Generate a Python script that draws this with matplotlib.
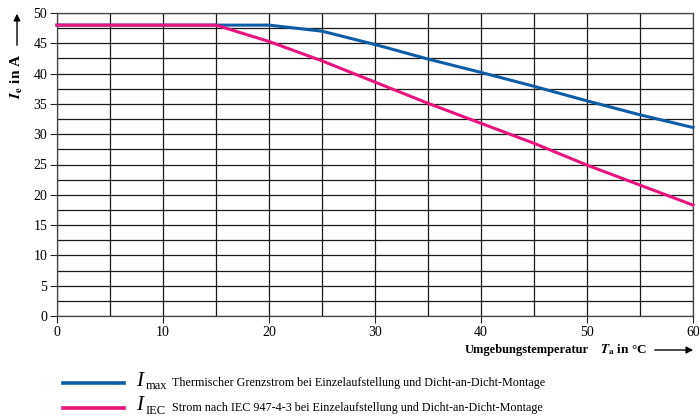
import matplotlib
matplotlib.use("Agg")
import matplotlib.pyplot as plt
from matplotlib.lines import Line2D
import numpy as np

plt.rcParams['font.family'] = ['Liberation Serif', 'DejaVu Serif']
plt.rcParams['mathtext.fontset'] = 'stix'

# Data
temp_max = [0, 20, 25, 30, 35, 40, 45, 50, 55, 60]
i_max = [48.0, 48.0, 47.0, 44.8, 42.4, 40.2, 37.9, 35.5, 33.2, 31.1]
temp_iec = [0, 15, 20, 25, 30, 35, 40, 45, 50, 55, 60]
i_iec = [48.0, 48.0, 45.3, 42.1, 38.6, 35.1, 31.8, 28.5, 24.9, 21.6, 18.3]

x_ticks = [0, 10, 20, 30, 40, 50, 60]
y_ticks = [0, 5, 10, 15, 20, 25, 30, 35, 40, 45, 50]

label_max = "Thermischer Grenzstrom bei Einzelaufstellung und Dicht-an-Dicht-Montage"
label_iec = "Strom nach IEC 947-4-3 bei Einzelaufstellung und Dicht-an-Dicht-Montage"

blue = '#0d5ca6'
pink = '#e8137f'

W, H = 699, 418
fig = plt.figure(figsize=(W / 100, H / 100), dpi=100)
ax = fig.add_axes([57 / W, 1 - 316 / H, (693 - 57) / W, (316 - 13) / H])

ax.set_xlim(0, 60)
ax.set_ylim(0, 50)
ax.set_xticks(x_ticks)
ax.set_yticks(y_ticks)
ax.set_xticks(np.arange(0, 61, 5), minor=True)
ax.set_yticks(np.arange(0, 50.1, 2.5), minor=True)
ax.tick_params(which='major', direction='out', length=5, width=0.8, labelsize=10, pad=2, color='#222222')
ax.tick_params(which='minor', length=0)
ax.grid(which='both', color='#1a1a1a', linewidth=0.9)
for s in ax.spines.values():
    s.set_color('#444444')
    s.set_linewidth(0.9)

ax.plot(temp_max, i_max, color=blue, linewidth=2.2, zorder=3, clip_on=False)
ax.plot(temp_iec, i_iec, color=pink, linewidth=2.2, zorder=4, clip_on=False)

# Y axis label with arrow
fig.text(17 / W, 1 - 76 / H, r"$\boldsymbol{I}_{\mathbf{e}}$ in A", rotation=90,
         ha='center', va='center', fontsize=11, fontweight='bold')
fig.add_artist(matplotlib.patches.FancyArrowPatch(
    (17 / W, 1 - 48 / H), (17 / W, 1 - 11 / H), transform=fig.transFigure,
    arrowstyle='-|>', mutation_scale=10, color='black', linewidth=1))

# X axis label with arrow
fig.text(465 / W, 1 - 350 / H, "Umgebungstemperatur", ha='left', va='center',
         fontsize=9, fontweight='bold')
fig.text(600 / W, 1 - 350 / H, r"$\boldsymbol{T}_{\mathbf{a}}$ in °C", ha='left', va='center',
         fontsize=9.5, fontweight='bold')
fig.add_artist(matplotlib.patches.FancyArrowPatch(
    (652 / W, 1 - 350 / H), (696 / W, 1 - 350 / H), transform=fig.transFigure,
    arrowstyle='-|>', mutation_scale=10, color='black', linewidth=1))

# Legend
for yy, col, sub, lab in [(383, blue, 'max', label_max), (408, pink, 'IEC', label_iec)]:
    fig.add_artist(Line2D([63 / W, 124 / W], [1 - yy / H, 1 - yy / H],
                          color=col, linewidth=2.6, transform=fig.transFigure))
    fig.text(136 / W, 1 - (yy - 2) / H, "I", fontsize=15, style='italic',
             ha='left', va='center')
    fig.text(146 / W, 1 - (yy + 3) / H, sub, fontsize=9, ha='left', va='center')
    fig.text(172 / W, 1 - yy / H, lab, fontsize=8.7, ha='left', va='center')

fig.savefig("out.png", dpi=100)
